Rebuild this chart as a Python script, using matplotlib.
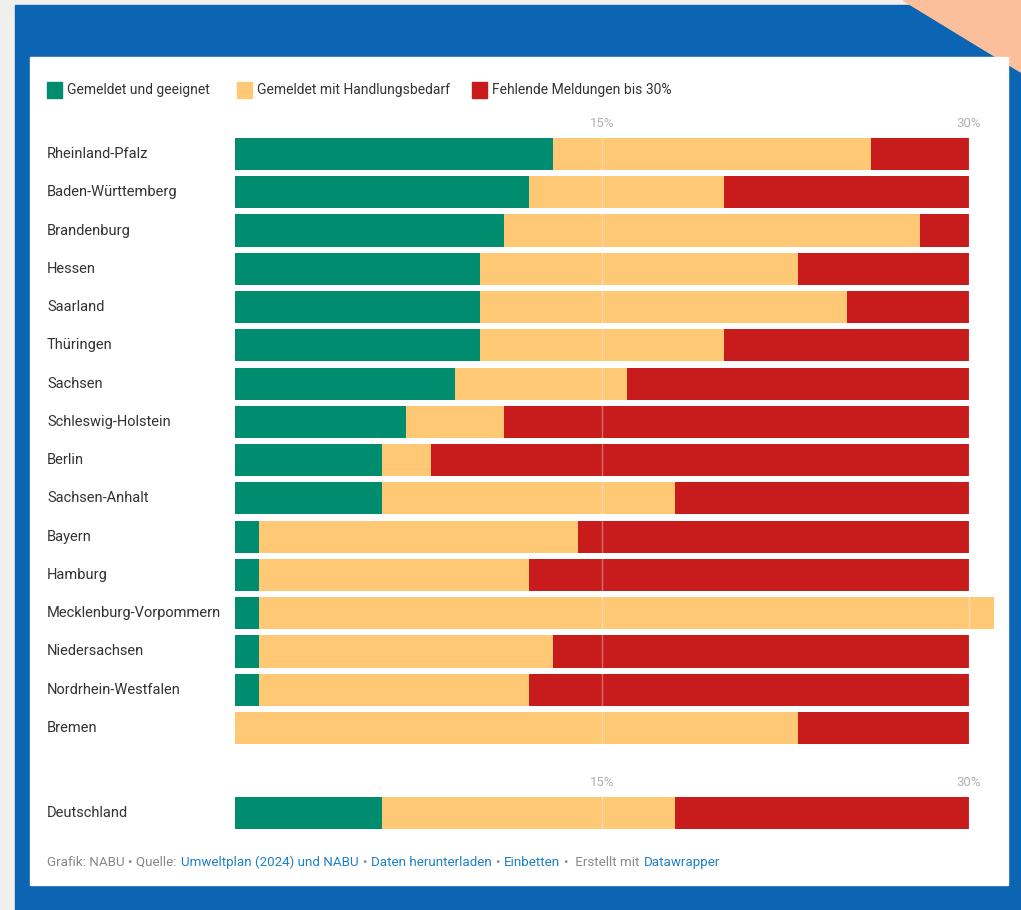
import matplotlib.pyplot as plt
from matplotlib.patches import Rectangle, Polygon

plt.rcParams['font.family'] = ['Roboto', 'DejaVu Sans']

W, H = 1021, 910

# data (percent of land area)
states = ["Rheinland-Pfalz", "Baden-Württemberg", "Brandenburg", "Hessen", "Saarland",
          "Thüringen", "Sachsen", "Schleswig-Holstein", "Berlin", "Sachsen-Anhalt",
          "Bayern", "Hamburg", "Mecklenburg-Vorpommern", "Niedersachsen",
          "Nordrhein-Westfalen", "Bremen"]
geeignet = [13, 12, 11, 10, 10, 10, 9, 7, 6, 6, 1, 1, 1, 1, 1, 0]
handlung = [13, 8, 17, 13, 15, 10, 7, 4, 2, 12, 13, 11, 30, 12, 11, 23]
fehlend = [4, 10, 2, 7, 5, 10, 14, 19, 22, 12, 16, 18, 0, 17, 18, 7]

total_label = "Deutschland"
total_vals = [6, 12, 12]

series_names = ["Gemeldet und geeignet", "Gemeldet mit Handlungsbedarf",
                "Fehlende Meldungen bis 30%"]
colors = ["#008c6e", "#fec875", "#c81c1c"]
ticks = [15, 30]


def px_axes(fig, x0, y0, x1, y1):
    return fig.add_axes([x0 / W, 1 - y1 / H, (x1 - x0) / W, (y1 - y0) / H])


fig = plt.figure(figsize=(W / 100, H / 100), dpi=100)
fig.patch.set_facecolor("#f1efec")

# frame decoration
bg = fig.add_axes([0, 0, 1, 1])
bg.set_xlim(0, W)
bg.set_ylim(H, 0)
bg.axis("off")
bg.add_patch(Rectangle((15, 5), W - 15, H - 5, color="#0b65b2"))
bg.add_patch(Polygon([(903, 0), (W, 0), (W, 72)], color="#fbbf9c"))
bg.add_patch(Rectangle((30, 57), 978, 828, color="white"))

scale = 24.47  # px per percent
x_left = 235
xmax = 31
x_right = x_left + xmax * scale
row = 38.27


def draw_bars(ax, labels, g, h, f):
    n = len(labels)
    y = list(range(n))
    left = [0] * n
    for vals, c in zip([g, h, f], colors):
        ax.barh(y, vals, left=left, height=0.84, color=c, linewidth=0, zorder=2)
        left = [a + b for a, b in zip(left, vals)]
    for t in ticks:
        ax.axvline(t, color="white", alpha=0.35, lw=1, zorder=3)
    ax.set_xlim(0, xmax)
    ax.set_ylim(n - 0.5, -0.5)
    ax.axis("off")
    for yi, lab in zip(y, labels):
        ax.text(-(x_left - 47) / scale, yi, lab, ha="left", va="center",
                fontsize=10.5, color="#333333")
    for t in ticks:
        ax.text(t, -0.5 - 11 / row, f"{t}%", ha="center", va="center",
                fontsize=9.5, color="#b0b0b0", clip_on=False)


ax = px_axes(fig, x_left, 154 - row / 2, x_right, 728 + row / 2)
draw_bars(ax, states, geeignet, handlung, fehlend)

ax2 = px_axes(fig, x_left, 813 - row / 2, x_right, 813 + row / 2)
draw_bars(ax2, [total_label], [total_vals[0]], [total_vals[1]], [total_vals[2]])

# legend
leg_x = [47, 237, 472]
for x, name, c in zip(leg_x, series_names, colors):
    bg.add_patch(Rectangle((x, 82), 15, 16, color=c))
    bg.text(x + 20, 90, name, ha="left", va="center", fontsize=10, color="#333333")

# footer: pieces placed one after another on a common baseline
parts = [("Grafik: NABU • Quelle:", "#888888"), ("Umweltplan (2024) und NABU", "#1d81c8"),
         ("•", "#888888"), ("Daten herunterladen", "#1d81c8"), ("•", "#888888"),
         ("Einbetten", "#1d81c8"), ("•  Erstellt mit", "#888888"), ("Datawrapper", "#1d81c8")]
renderer = fig.canvas.get_renderer()
x = 47
gap = 4
for s, c in parts:
    t = bg.text(x, 866, s, ha="left", va="baseline", fontsize=9.6, color=c)
    ext = t.get_window_extent(renderer=renderer)
    x += ext.width + gap

fig.savefig("out.png", dpi=100, facecolor=fig.get_facecolor())
